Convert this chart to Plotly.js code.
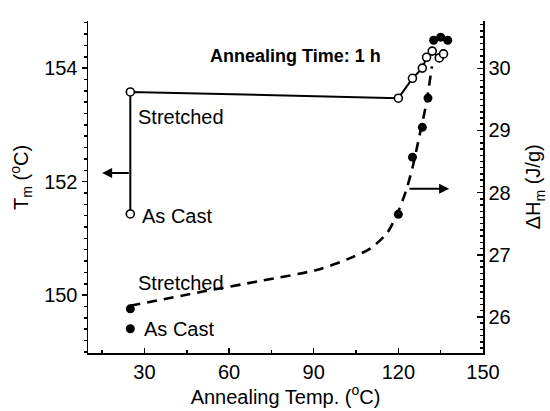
<!DOCTYPE html>
<html>
<head>
<meta charset="utf-8">
<script src="https://cdn.plot.ly/plotly-3.0.1.min.js"></script>
<style>html,body{margin:0;padding:0;background:#fff;}#chart{width:550px;height:411px;}</style>
</head>
<body>
<div id="chart"></div>
<script>
// Melting temperature (open circles, left axis)
const tempOpen = [25, 25, 120, 125, 128.5, 130, 132, 134.5, 136];
const tmOpen = [151.43, 153.58, 153.47, 153.82, 154.0, 154.19, 154.30, 154.18, 154.25];
// Heat of fusion (filled circles, right axis)
const tempFilled = [25, 25, 120, 125, 128.5, 130.5, 132.5, 135, 137.5];
const dhFilled = [25.81, 26.13, 27.65, 28.57, 29.05, 29.52, 30.45, 30.5, 30.45];
// Dashed guide curve through the heat-of-fusion points
const fitT = [25, 49.8, 71.1, 91.4, 103.1, 110, 116, 119.5, 122.5, 125, 127.5, 129.8, 131.9];
const fitDH = [26.18, 26.40, 26.58, 26.76, 26.95, 27.1, 27.35, 27.65, 28.0, 28.4, 28.92, 29.41, 30.03];
// Tick labels
const xTicks = [30, 60, 90, 120, 150];
const yTicks = [150, 152, 154];
const y2Ticks = [26, 27, 28, 29, 30];

const FONT = 'Arial, "Liberation Sans", sans-serif';

const traces = [
  {x: tempOpen, y: tmOpen, type: 'scatter', mode: 'lines+markers', yaxis: 'y',
   line: {color: '#000', width: 2},
   marker: {symbol: 'circle', size: 8, color: '#fff', line: {color: '#000', width: 1.6}},
   showlegend: false, hoverinfo: 'skip'},
  {x: fitT, y: fitDH, type: 'scatter', mode: 'lines', yaxis: 'y2',
   line: {color: '#000', width: 2.6, dash: '10px,7px', shape: 'spline', smoothing: 0.8},
   showlegend: false, hoverinfo: 'skip'},
  {x: tempFilled, y: dhFilled, type: 'scatter', mode: 'markers', yaxis: 'y2',
   marker: {symbol: 'circle', size: 9, color: '#000'},
   showlegend: false, hoverinfo: 'skip'}
];

const layout = {
  width: 550, height: 411,
  margin: {l: 88, r: 67, t: 21, b: 58},
  paper_bgcolor: '#fff', plot_bgcolor: '#fff',
  font: {family: FONT, size: 20, color: '#000'},
  showlegend: false,
  xaxis: {
    range: [10, 150], tickvals: xTicks, ticktext: xTicks.map(String),
    ticks: 'inside', ticklen: 5, tickwidth: 1.5, tickcolor: '#000',
    minor: {tickvals: [15, 45, 75, 105, 135], ticks: 'inside', ticklen: 3, tickcolor: '#000'},
    showline: true, linewidth: 1.5, linecolor: '#000', mirror: false,
    showgrid: false, zeroline: false,
    tickfont: {size: 20},
    title: {text: 'Annealing Temp. (<sup>o</sup>C)', font: {size: 20}, standoff: 6}
  },
  yaxis: {
    range: [148.98, 154.83], tickvals: yTicks, ticktext: yTicks.map(String),
    ticks: 'outside', ticklen: 5, tickwidth: 1.5, tickcolor: '#000',
    minor: {dtick: 0.2, tick0: 150, ticks: 'outside', ticklen: 3, tickcolor: '#000'},
    showline: true, linewidth: 1.5, linecolor: '#000',
    showgrid: false, zeroline: false, tickfont: {size: 20}
  },
  yaxis2: {
    overlaying: 'y', side: 'right',
    range: [25.42, 30.76], tickvals: y2Ticks, ticktext: y2Ticks.map(String),
    ticks: 'inside', ticklen: 6, tickwidth: 1.5, tickcolor: '#000',
    minor: {dtick: 0.1, tick0: 26, ticks: 'inside', ticklen: 3, tickcolor: '#000'},
    showline: true, linewidth: 1.5, linecolor: '#000',
    showgrid: false, zeroline: false, tickfont: {size: 20}
  },
  annotations: [
    {text: 'T<sub>m</sub> (<sup>o</sup>C)', xref: 'paper', yref: 'paper', x: -0.17, y: 0.53,
     textangle: -90, showarrow: false, font: {size: 20}, xanchor: 'center', yanchor: 'middle'},
    {text: '\u0394H<sub>m</sub> (J/g)', xref: 'paper', yref: 'paper', x: 1.13, y: 0.5,
     textangle: -90, showarrow: false, font: {size: 20}, xanchor: 'center', yanchor: 'middle'},
    {text: '<b>Annealing Time: 1 h</b>', xref: 'x', yref: 'y', x: 83.6, y: 154.22,
     showarrow: false, font: {size: 18}, xanchor: 'center', yanchor: 'middle'},
    {text: 'Stretched', xref: 'x', yref: 'y', x: 27, y: 153.13, xanchor: 'left', showarrow: false, font: {size: 20}},
    {text: 'As Cast', xref: 'x', yref: 'y', x: 28.5, y: 151.4, xanchor: 'left', showarrow: false, font: {size: 20}},
    {text: 'Stretched', xref: 'x', yref: 'y2', x: 27, y: 26.55, xanchor: 'left', showarrow: false, font: {size: 20}},
    {text: 'As Cast', xref: 'x', yref: 'y2', x: 29, y: 25.8, xanchor: 'left', showarrow: false, font: {size: 20}},
    {x: 15, y: 152.15, xref: 'x', yref: 'y', ax: 25, ay: 152.15, axref: 'x', ayref: 'y',
     showarrow: true, arrowhead: 2, arrowsize: 1, arrowwidth: 2, arrowcolor: '#000', text: ''},
    {x: 138, y: 28.06, xref: 'x', yref: 'y2', ax: 123.4, ay: 28.06, axref: 'x', ayref: 'y2',
     showarrow: true, arrowhead: 2, arrowsize: 1, arrowwidth: 2, arrowcolor: '#000', text: ''}
  ]
};

Plotly.newPlot('chart', traces, layout, {staticPlot: true, displayModeBar: false});
</script>
</body>
</html>
